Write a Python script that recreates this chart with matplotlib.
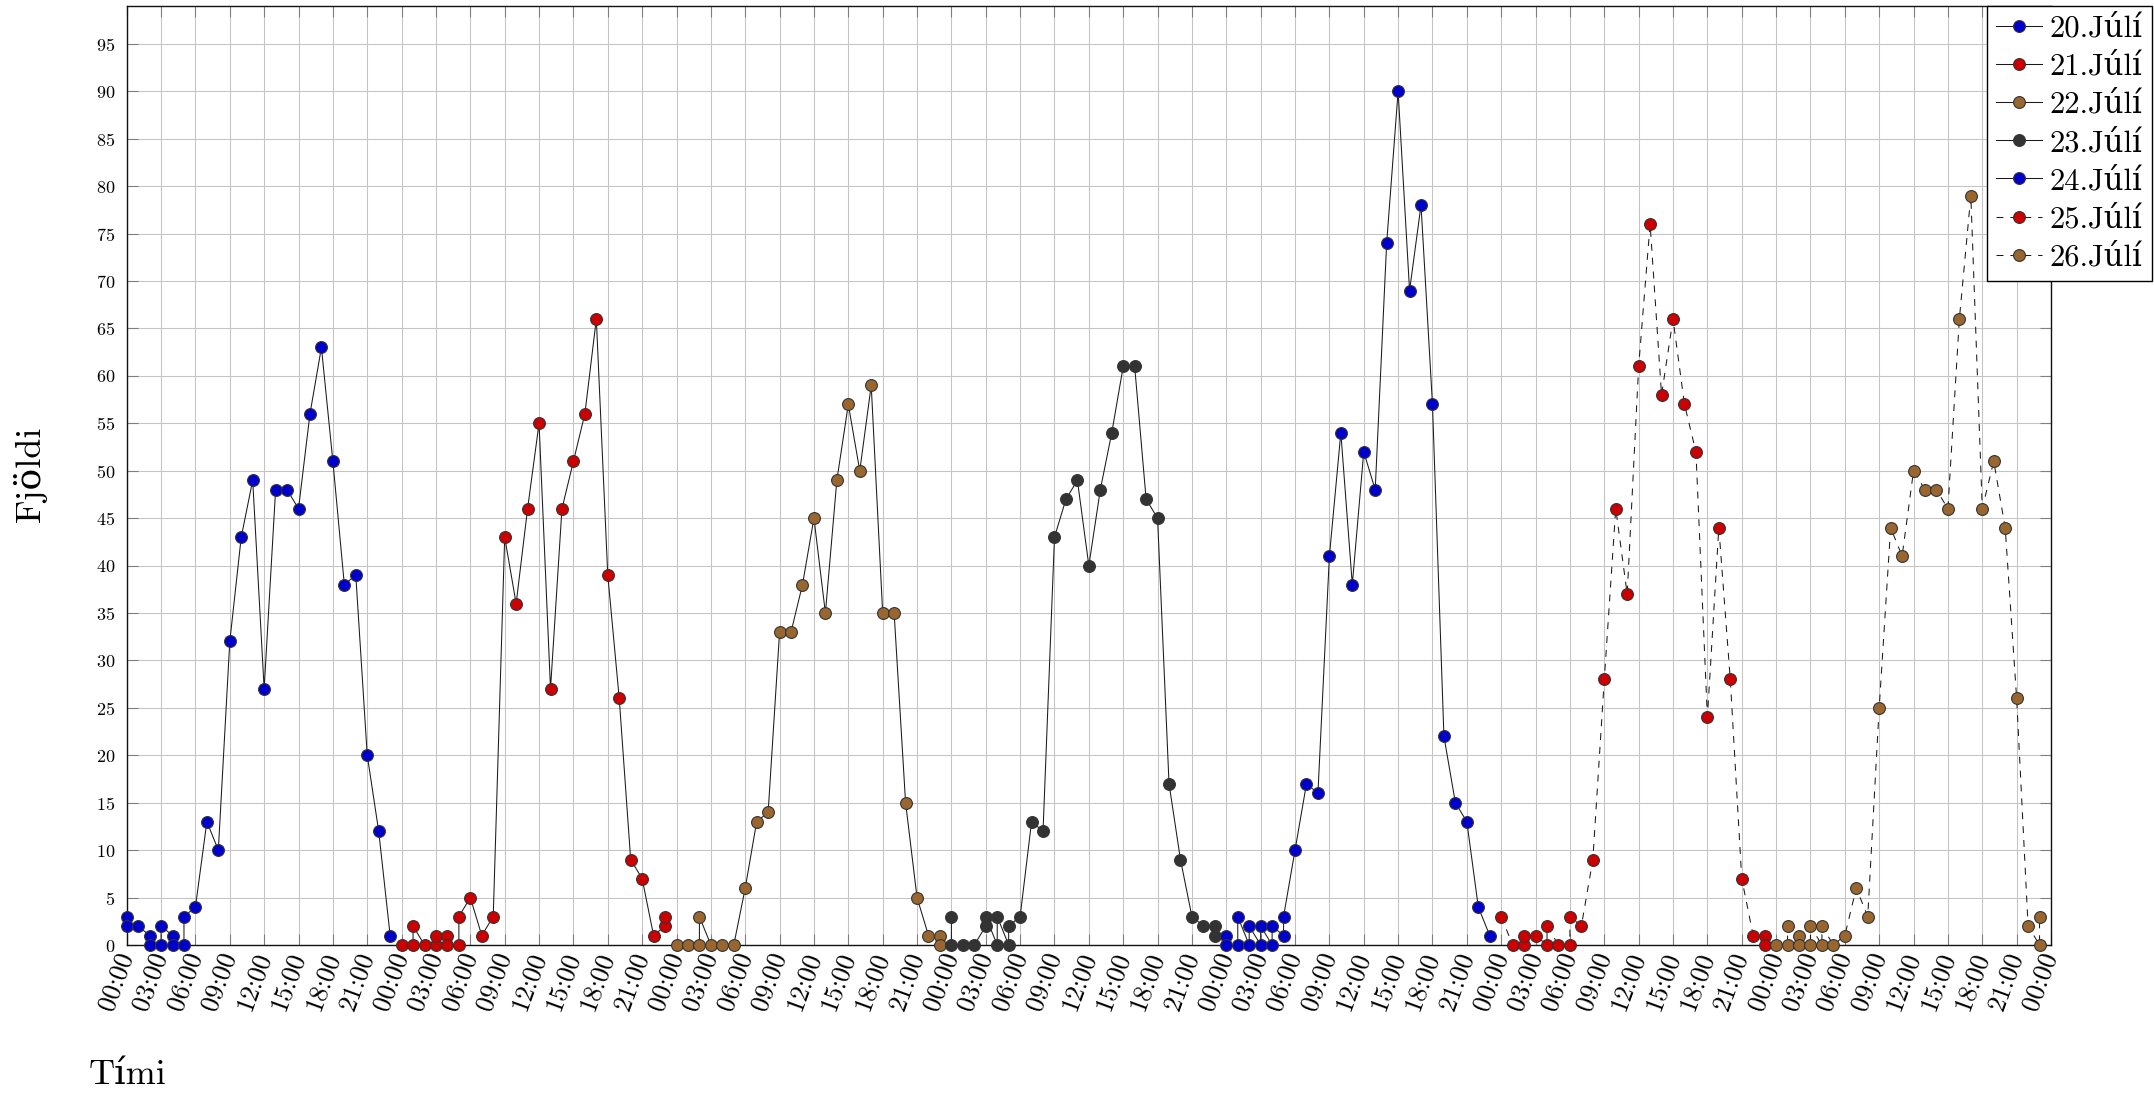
import matplotlib
matplotlib.use('Agg')
import matplotlib.pyplot as plt

plt.rcParams['font.family'] = ['cmr10', 'DejaVu Serif']
plt.rcParams['mathtext.fontset'] = 'cm'
plt.rcParams['axes.formatter.use_mathtext'] = True
plt.rcParams['lines.scale_dashes'] = False

# hours of each reading within the day, and the counts (Fjöldi)
hours_20 = [0, 0, 1, 2, 2, 3, 3, 4, 4, 5, 5, 6, 7, 8, 9, 10, 11, 12, 13, 14, 15, 16, 17, 18, 19, 20, 21, 22, 23]
count_20 = [3, 2, 2, 1, 0, 0, 2, 1, 0, 0, 3, 4, 13, 10, 32, 43, 49, 27, 48, 48, 46, 56, 63, 51, 38, 39, 20, 12, 1]

hours_21 = [0, 1, 1, 2, 3, 3, 4, 4, 5, 5, 6, 7, 8, 9, 10, 11, 12, 13, 14, 15, 16, 17, 18, 19, 20, 21, 22, 23, 23]
count_21 = [0, 0, 2, 0, 0, 1, 1, 0, 0, 3, 5, 1, 3, 43, 36, 46, 55, 27, 46, 51, 56, 66, 39, 26, 9, 7, 1, 2, 3]

hours_22 = [0, 1, 2, 2, 3, 4, 5, 6, 7, 8, 9, 10, 11, 12, 13, 14, 15, 16, 17, 18, 19, 20, 21, 22, 23, 23]
count_22 = [0, 0, 0, 3, 0, 0, 0, 6, 13, 14, 33, 33, 38, 45, 35, 49, 57, 50, 59, 35, 35, 15, 5, 1, 1, 0]

hours_23 = [0, 0, 1, 2, 3, 3, 4, 4, 5, 5, 6, 7, 8, 9, 10, 11, 12, 13, 14, 15, 16, 17, 18, 19, 20, 21, 22, 23, 23]
count_23 = [3, 0, 0, 0, 2, 3, 0, 3, 0, 2, 3, 13, 12, 43, 47, 49, 40, 48, 54, 61, 61, 47, 45, 17, 9, 3, 2, 2, 1]

hours_24 = [0, 0, 1, 1, 2, 2, 3, 3, 4, 4, 5, 5, 6, 7, 8, 9, 10, 11, 12, 13, 14, 15, 16, 17, 18, 19, 20, 21, 22, 23]
count_24 = [1, 0, 0, 3, 0, 2, 0, 2, 0, 2, 1, 3, 10, 17, 16, 41, 54, 38, 52, 48, 74, 90, 69, 78, 57, 22, 15, 13, 4, 1]

hours_25 = [0, 1, 2, 2, 3, 4, 4, 5, 6, 6, 7, 8, 9, 10, 11, 12, 13, 14, 15, 16, 17, 18, 19, 20, 21, 22, 23, 23]
count_25 = [3, 0, 0, 1, 1, 0, 2, 0, 0, 3, 2, 9, 28, 46, 37, 61, 76, 58, 66, 57, 52, 24, 44, 28, 7, 1, 1, 0]

hours_26 = [0, 1, 1, 2, 2, 3, 3, 4, 4, 5, 6, 7, 8, 9, 10, 11, 12, 13, 14, 15, 16, 17, 18, 19, 20, 21, 22, 23, 23]
count_26 = [0, 0, 2, 1, 0, 0, 2, 0, 2, 0, 1, 6, 3, 25, 44, 41, 50, 48, 48, 46, 66, 79, 46, 51, 44, 26, 2, 0, 3]

day_labels = ['20.Júlí', '21.Júlí', '22.Júlí', '23.Júlí', '24.Júlí', '25.Júlí', '26.Júlí']
tick_labels = ['00:00', '03:00', '06:00', '09:00', '12:00', '15:00', '18:00', '21:00'] * 7 + ['00:00']

days = [(hours_20, count_20), (hours_21, count_21), (hours_22, count_22), (hours_23, count_23),
        (hours_24, count_24), (hours_25, count_25), (hours_26, count_26)]
colors = ['#0000cc', '#cc0000', '#99662f', '#333333', '#0000cc', '#cc0000', '#99662f']
styles = ['-', '-', '-', '-', '-', '--', '--']

fig = plt.figure(figsize=(21.54, 10.95), dpi=100)
ax = fig.add_axes([126.7 / 2154, 1 - 945 / 1095, (2051 - 126.7) / 2154, (945 - 6) / 1095])

for i, (h, c) in enumerate(days):
    x = [24 * i + t for t in h]
    ln, = ax.plot(x, c, linestyle=styles[i], color='#1a1a1a', lw=0.75,
                  marker='o', ms=8.5, mfc=colors[i], mec='#333333', mew=0.8,
                  label=day_labels[i], zorder=3, clip_on=False)
    if styles[i] == '--':
        ln.set_dashes((5, 5))

ax.set_xlim(0, 168)
ax.set_ylim(0, 99)
ax.set_xticks(range(0, 169, 3))
ax.set_xticklabels(tick_labels, rotation=70, ha='right', va='center', rotation_mode='anchor', fontsize=19)
ax.set_yticks(range(0, 100, 5))
ax.tick_params(axis='y', labelsize=13, pad=8)
ax.tick_params(axis='x', pad=6)
ax.tick_params(direction='in', length=8, width=0.8, color='#808080', top=True, right=True)
ax.grid(True, color='#c4c4c4', lw=0.75)
ax.set_axisbelow(True)
for s in ax.spines.values():
    s.set_linewidth(1.0)
    s.set_color('#111111')

fig.text(30 / 2154, 1 - 474 / 1095, 'Fjöldi', rotation=90, fontsize=26, ha='center', va='center')
fig.text(89 / 2154, 1 - 1075 / 1095, 'Tími', fontsize=26, ha='left', va='center')

leg = ax.legend(loc='upper right', bbox_to_anchor=(2152 / 2154, 1 - 6 / 1095), bbox_transform=fig.transFigure,
                fontsize=22, fancybox=False, framealpha=1, edgecolor='black', borderpad=0.3,
                handlelength=1.5, handletextpad=0.25, labelspacing=0.35, borderaxespad=0)
leg.get_frame().set_linewidth(1.0)
leg.set_zorder(5)

fig.savefig('out.png', dpi=100)
